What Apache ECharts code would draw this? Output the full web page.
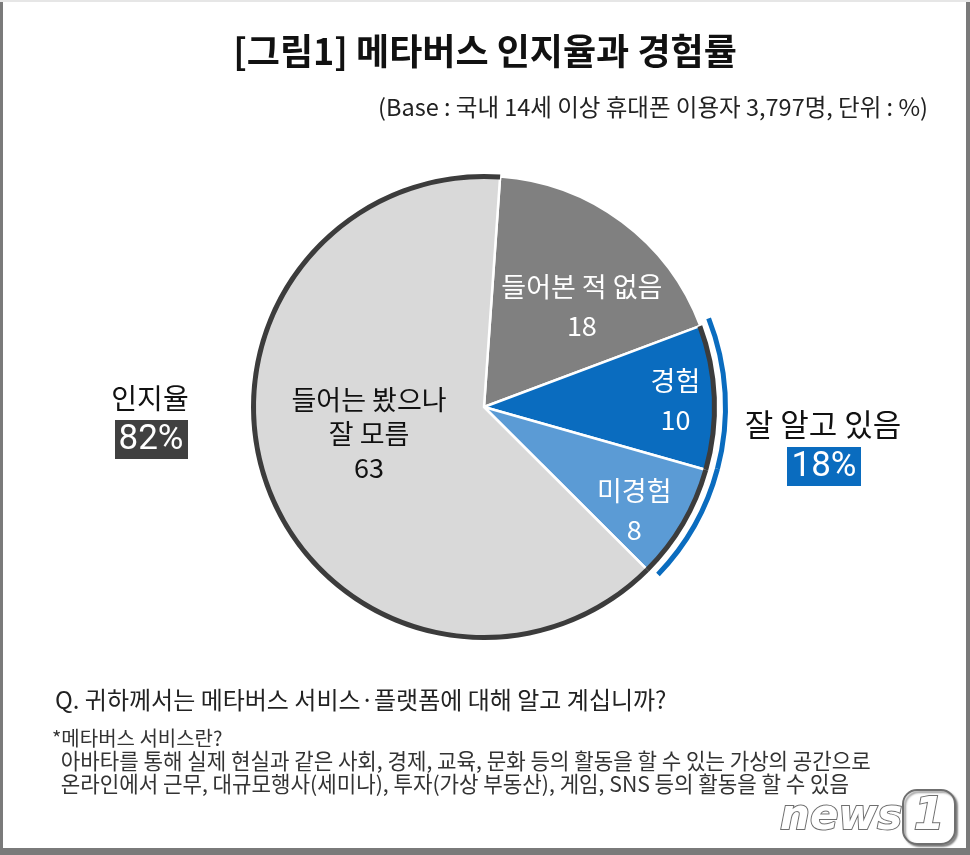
<!DOCTYPE html>
<html>
<head>
<meta charset="utf-8">
<script src="https://cdn.jsdelivr.net/npm/echarts@6/dist/echarts.min.js"></script>
<style>
html,body{margin:0;padding:0;background:#fff;}
#chart{width:970px;height:855px;}
</style>
</head>
<body>
<div id="chart"></div>
<script>
// ---- data ----
const categories = ['들어본 적 없음', '경험', '미경험', '들어는 봤으나\n잘 모름'];
const values = [18, 10, 8, 63];
const sliceColors = ['#808080', '#0a6cbf', '#5b9bd5', '#d9d9d9'];
const labelColors = ['#ffffff', '#ffffff', '#ffffff', '#111111'];
const awareIdx = [1, 2, 3];      // 인지율 (outlined dark)
const knowIdx = [1, 2];          // 잘 알고 있음 (blue arc)
const titleText = '[그림1] 메타버스 인지율과 경험률';
const baseText = '(Base : 국내 14세 이상 휴대폰 이용자 3,797명, 단위 : %)';
const leftLabel = ['인지율', '82%'];
const rightLabel = ['잘 알고 있음', '18%'];
const questionText = 'Q. 귀하께서는 메타버스 서비스·플랫폼에 대해 알고 계십니까?';
const noteLines = [
  '*메타버스 서비스란?',
  ' 아바타를 통해 실제 현실과 같은 사회, 경제, 교육, 문화 등의 활동을 할 수 있는 가상의 공간으로',
  ' 온라인에서 근무, 대규모행사(세미나), 투자(가상 부동산), 게임, SNS 등의 활동을 할 수 있음'
];

const FONT = '"Noto Sans CJK KR", "Noto Sans", sans-serif';
const CENTER = [484, 407];
const START = 86;
const labelShift = [[27, -6], [73, -2], [48, 43], [-4, -15]];

const chart = echarts.init(document.getElementById('chart'));

const mainData = values.map((v, i) => ({
  name: categories[i], value: v,
  itemStyle: { color: sliceColors[i] },
  label: { color: labelColors[i], lineHeight: i === 3 ? 34 : 39 }
}));
const ringData = values.map((v, i) => ({
  value: v,
  itemStyle: { color: awareIdx.includes(i) ? '#3c3c3c' : 'rgba(0,0,0,0)' }
}));
const arcData = values.map((v, i) => ({
  value: v,
  itemStyle: { color: knowIdx.includes(i) ? '#0a6cbf' : 'rgba(0,0,0,0)' }
}));

const shadow = { shadowColor: 'rgba(0,0,0,0.4)', shadowOffsetX: 2, shadowOffsetY: 2, shadowBlur: 2 };

const graphics = [
  { type: 'text', left: 'center', top: 33, style: { text: titleText, font: 'bold 36px ' + FONT, fill: '#111' } },
  { type: 'text', right: 42, top: 95, style: { text: baseText, font: '23.5px ' + FONT, fill: '#222' } },
  { type: 'text', x: 150, y: 398, style: { text: leftLabel[0], font: '28px ' + FONT, fill: '#111', align: 'center', verticalAlign: 'middle' } },
  { type: 'rect', shape: { x: 115, y: 420, width: 73, height: 39 }, style: { fill: '#404040' } },
  { type: 'text', x: 151, y: 440, style: { text: leftLabel[1], font: '35px Roboto, sans-serif', fill: '#fff', align: 'center', verticalAlign: 'middle' } },
  { type: 'text', x: 823, y: 424, style: { text: rightLabel[0], font: '31px ' + FONT, fill: '#111', align: 'center', verticalAlign: 'middle' } },
  { type: 'rect', shape: { x: 787, y: 447, width: 74, height: 39 }, style: { fill: '#0a6cbf' } },
  { type: 'text', x: 824, y: 467, style: { text: rightLabel[1], font: '35px Roboto, sans-serif', fill: '#fff', align: 'center', verticalAlign: 'middle' } },
  { type: 'text', x: 55, y: 700, style: { text: questionText, font: '24px ' + FONT, fill: '#222', verticalAlign: 'middle' } },
  { type: 'text', x: 52, y: 738, style: { text: noteLines[0], font: '20px ' + FONT, fill: '#333', verticalAlign: 'middle' } },
  { type: 'text', x: 56, y: 761, style: { text: noteLines[1], font: '21.2px ' + FONT, fill: '#333', verticalAlign: 'middle' } },
  { type: 'text', x: 56, y: 784, style: { text: noteLines[2], font: '21.2px ' + FONT, fill: '#333', verticalAlign: 'middle' } },
  // logo
  { type: 'text', x: 780, y: 818, style: Object.assign({ text: 'news', font: 'italic bold 42px "DejaVu Sans", sans-serif', fill: '#fff', stroke: '#6f6f6f', lineWidth: 2, verticalAlign: 'middle' }, shadow) },
  { type: 'rect', shape: { x: 903, y: 790, width: 52, height: 54, r: 14 }, style: Object.assign({ fill: '#fff', stroke: '#6f6f6f', lineWidth: 2 }, shadow) },
  { type: 'text', x: 929, y: 818, style: { text: '1', font: 'italic bold 44px "DejaVu Sans", sans-serif', fill: '#fff', stroke: '#6f6f6f', lineWidth: 2, align: 'center', verticalAlign: 'middle' } },
  // frame
  { type: 'rect', shape: { x: 0, y: 0, width: 3, height: 855 }, style: { fill: '#7a7a7a' } },
  { type: 'rect', shape: { x: 966, y: 0, width: 4, height: 855 }, style: { fill: '#7a7a7a' } },
  { type: 'rect', shape: { x: 0, y: 848, width: 970, height: 7 }, style: { fill: '#7a7a7a' } },
  { type: 'rect', shape: { x: 0, y: 0, width: 970, height: 2 }, style: { fill: '#e6e6e6' } }
];

chart.setOption({
  animation: false,
  backgroundColor: '#fff',
  graphic: graphics,
  series: [
    {
      type: 'pie', center: CENTER, radius: [0, 231], startAngle: START, clockwise: true,
      silent: true,
      itemStyle: { borderColor: '#fff', borderWidth: 2.5 },
      label: {
        show: true, position: 'inside', formatter: '{b}\n{c}',
        fontFamily: FONT, fontSize: 27, align: 'center'
      },
      labelLine: { show: false },
      labelLayout: (p) => ({ dx: labelShift[p.dataIndex][0], dy: labelShift[p.dataIndex][1] }),
      data: mainData
    },
    {
      type: 'pie', center: CENTER, radius: [228, 233], startAngle: START, clockwise: true,
      silent: true, label: { show: false }, labelLine: { show: false },
      itemStyle: { borderWidth: 0 }, data: ringData
    },
    {
      type: 'pie', center: CENTER, radius: [239, 244], startAngle: START + 1, clockwise: true,
      silent: true, label: { show: false }, labelLine: { show: false },
      itemStyle: { borderWidth: 0 }, data: arcData
    }
  ]
});
</script>
</body>
</html>
